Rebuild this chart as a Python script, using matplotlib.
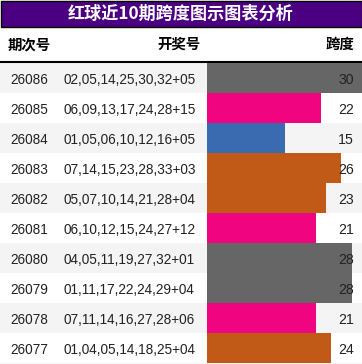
import matplotlib
matplotlib.use("Agg")
import matplotlib.pyplot as plt
from matplotlib.patches import Rectangle
import matplotlib.transforms as mtransforms

plt.rcParams['font.family'] = ['Liberation Sans', 'Noto Sans CJK SC', 'DejaVu Sans']

title = "红球近10期跨度图示图表分析"
headers = ["期次号", "开奖号", "跨度"]
periods = ["26086", "26085", "26084", "26083", "26082",
           "26081", "26080", "26079", "26078", "26077"]
draws = ["02,05,14,25,30,32+05", "06,09,13,17,24,28+15", "01,05,06,10,12,16+05",
         "07,14,15,23,28,33+03", "05,07,10,14,21,28+04", "06,10,12,15,24,27+12",
         "04,05,11,19,27,32+01", "01,11,17,22,24,29+04", "07,11,14,16,27,28+06",
         "01,04,05,14,18,25+04"]
spans = [30, 22, 15, 26, 23, 21, 28, 28, 21, 24]
span_max = 30


def bar_color(v):
    if v >= 28:
        return "#666666"
    if v >= 23:
        return "#C05A16"
    if v >= 18:
        return "#F0047F"
    return "#3A6AB0"


W, H = 362, 364
fig = plt.figure(figsize=(W / 100, H / 100), dpi=100)
bg = fig.add_axes([0, 0, 1, 1])
bg.set_xlim(0, W)
bg.set_ylim(H, 0)
bg.axis('off')

cjk = ['Noto Sans CJK SC', 'DejaVu Sans']

# title band
bg.add_patch(Rectangle((0.5, 0.5), W - 1, 26, facecolor="#4B0082", edgecolor="black", lw=1))
bg.text(181, 14, title, color="white", fontsize=12.3, fontweight='bold',
        ha='center', va='center', family=cjk)

# header
hy = 45
bg.text(8, hy, headers[0], fontsize=10.4, fontweight='bold', ha='left', va='center', family=cjk)
bg.text(179, hy, headers[1], fontsize=10.4, fontweight='bold', ha='center', va='center', family=cjk)
bg.text(354, hy, headers[2], fontsize=10.4, fontweight='bold', ha='right', va='center', family=cjk)
bg.plot([0, W], [62, 62], color="black", lw=1.5)

row_top = 63
row_h = 30
fs = 9.8
for i, (p, d) in enumerate(zip(periods, draws)):
    y0 = row_top + i * row_h
    bg.add_patch(Rectangle((0, y0), W, row_h, facecolor="#F4F4F4" if i % 2 == 0 else "white",
                           edgecolor='none'))
    bg.text(10, y0 + row_h / 2, p, fontsize=fs, ha='left', va='center_baseline', color="#222222")
    bg.text(63, y0 + row_h / 2, d, fontsize=fs, ha='left', va='center_baseline', color="#222222")
bg.add_patch(Rectangle((0, row_top + 10 * row_h), W, 5, facecolor="#F4F4F4", edgecolor='none'))

# bars
x0 = 207
ax = fig.add_axes([x0 / W, (H - (row_top + 10 * row_h)) / H, (W - x0) / W, 10 * row_h / H])
ax.set_xlim(0, span_max)
ax.set_ylim(9.5, -0.5)
ax.axis('off')
ax.patch.set_alpha(0)
ax.barh(range(len(spans)), spans, height=1.0, color=[bar_color(v) for v in spans])
tr = mtransforms.blended_transform_factory(ax.transAxes, ax.transData)
for i, v in enumerate(spans):
    ax.text((354 - x0) / (W - x0), i, str(v), transform=tr, fontsize=10.2,
            ha='right', va='center_baseline', color="#222222")

fig.savefig("out.png", dpi=100)
